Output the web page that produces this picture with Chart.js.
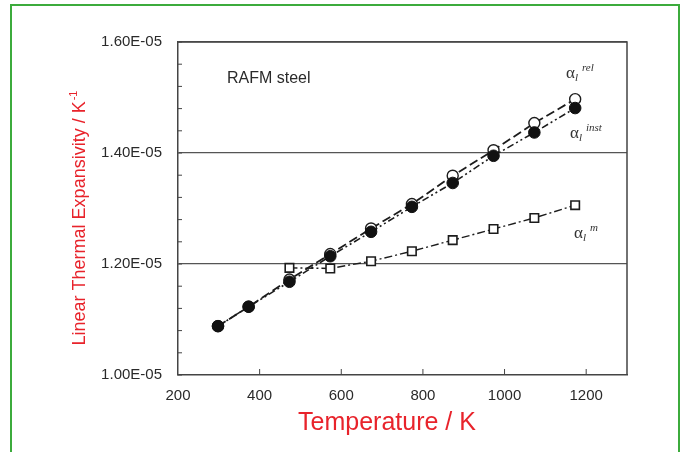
<!DOCTYPE html>
<html>
<head>
<meta charset="utf-8">
<script src="https://cdn.jsdelivr.net/npm/chart.js@4.4.0/dist/chart.umd.min.js"></script>
<style>
  html, body { margin: 0; padding: 0; background: #fff; overflow: hidden; }
  #wrap { position: relative; width: 683px; height: 452px; }
  #frame { position: absolute; left: 10px; top: 4px; width: 666px; height: 520px; border: 2px solid #3cab3c; }
  canvas { position: absolute; left: 0; top: 0; }
</style>
</head>
<body>
<div id="wrap">
  <div id="frame"></div>
  <canvas id="Cnvs" width="683" height="452"></canvas>
</div>
<script>
  // temperatures (K)
  var temps = [298, 373, 473, 573, 673, 773, 873, 973, 1073, 1173];
  var tempsM = [473, 573, 673, 773, 873, 973, 1073, 1173];

  // linear thermal expansivity (1/K)
  var alphaRel = [1.088e-5, 1.123e-5, 1.172e-5, 1.218e-5, 1.264e-5, 1.308e-5, 1.359e-5, 1.405e-5, 1.454e-5, 1.497e-5];
  var alphaInst = [1.088e-5, 1.123e-5, 1.168e-5, 1.214e-5, 1.258e-5, 1.303e-5, 1.346e-5, 1.395e-5, 1.437e-5, 1.481e-5];
  var alphaM = [1.193e-5, 1.192e-5, 1.205e-5, 1.223e-5, 1.243e-5, 1.263e-5, 1.283e-5, 1.306e-5];

  var yMajor = [1.0e-5, 1.2e-5, 1.4e-5, 1.6e-5];
  var yLabels = ['1.00E-05', '1.20E-05', '1.40E-05', '1.60E-05'];

  var red = '#e8232b';
  var ink = '#1c1c1c';

  function pts(xs, ys) {
    return xs.map(function (x, i) { return { x: x, y: ys[i] }; });
  }

  function majorIndex(v) {
    for (var i = 0; i < yMajor.length; i++) {
      if (Math.abs(v - yMajor[i]) < 1e-9) return i;
    }
    return -1;
  }

  function drawAlpha(ctx, x, y, sup) {
    ctx.font = '17px "Liberation Serif", serif';
    ctx.fillText('\u03B1', x, y);
    var w = ctx.measureText('\u03B1').width;
    ctx.font = 'italic 11px "Liberation Serif", serif';
    ctx.fillText('l', x + w, y + 3);
    ctx.fillText(sup, x + w + 7, y - 7);
  }

  var decor = {
    id: 'decor',
    afterDraw: function (chart) {
      var ctx = chart.ctx, a = chart.chartArea;
      var xs = chart.scales.x, ys = chart.scales.y;
      ctx.save();
      // top and right frame of the plot
      ctx.strokeStyle = '#444';
      ctx.lineWidth = 1.5;
      ctx.beginPath();
      ctx.moveTo(a.left, a.top);
      ctx.lineTo(a.right, a.top);
      ctx.lineTo(a.right, a.bottom);
      ctx.stroke();
      // inner ticks
      ctx.lineWidth = 1;
      ys.ticks.forEach(function (t) {
        var py = ys.getPixelForValue(t.value);
        ctx.beginPath();
        ctx.moveTo(a.left, py);
        ctx.lineTo(a.left + 4, py);
        ctx.stroke();
      });
      xs.ticks.forEach(function (t) {
        if (t.value <= 200) return;
        var px = xs.getPixelForValue(t.value);
        ctx.beginPath();
        ctx.moveTo(px, a.bottom);
        ctx.lineTo(px, a.bottom - 6);
        ctx.stroke();
      });

      // annotations
      ctx.fillStyle = '#2a2a2a';
      ctx.textBaseline = 'alphabetic';
      ctx.textAlign = 'left';
      ctx.font = '16px "Liberation Sans", Arial, sans-serif';
      ctx.fillText('RAFM steel', 227, 83);

      ctx.fillStyle = '#333';
      drawAlpha(ctx, 566, 78, 'rel');
      drawAlpha(ctx, 570, 138, 'inst');
      drawAlpha(ctx, 574, 238, 'm');

      // x title
      ctx.fillStyle = red;
      ctx.textAlign = 'center';
      ctx.textBaseline = 'middle';
      ctx.font = '25px "Liberation Sans", Arial, sans-serif';
      ctx.fillText('Temperature / K', 387, 423);

      // y title (rotated)
      ctx.translate(80, 218);
      ctx.rotate(-Math.PI / 2);
      ctx.textAlign = 'left';
      ctx.font = '18px "Liberation Sans", Arial, sans-serif';
      var main = 'Linear Thermal Expansivity / K';
      var w1 = ctx.measureText(main).width;
      ctx.font = '11px "Liberation Sans", Arial, sans-serif';
      var w2 = ctx.measureText('-1').width;
      var start = -(w1 + w2 + 1) / 2;
      ctx.font = '18px "Liberation Sans", Arial, sans-serif';
      ctx.fillText(main, start, 0);
      ctx.font = '11px "Liberation Sans", Arial, sans-serif';
      ctx.fillText('-1', start + w1 + 1, -6);
      ctx.restore();
    }
  };

  var Cnvs = document.getElementById('Cnvs').getContext('2d');
  var lineChart = new Chart(Cnvs, {
    type: 'scatter',
    data: {
      datasets: [
        {
          label: 'rel',
          data: pts(temps, alphaRel),
          showLine: true,
          borderColor: ink,
          borderWidth: 1.8,
          borderDash: [9, 4],
          pointStyle: 'circle',
          pointRadius: 5.5,
          pointBorderWidth: 1.4,
          pointBackgroundColor: '#fff',
          pointBorderColor: ink,
          order: 2
        },
        {
          label: 'inst',
          data: pts(temps, alphaInst),
          showLine: true,
          borderColor: ink,
          borderWidth: 1.6,
          borderDash: [7, 3, 2, 3, 2, 3],
          pointStyle: 'circle',
          pointRadius: 5.8,
          pointBorderWidth: 1,
          pointBackgroundColor: '#111',
          pointBorderColor: '#111',
          order: 1
        },
        {
          label: 'm',
          data: pts(tempsM, alphaM),
          showLine: true,
          borderColor: ink,
          borderWidth: 1.4,
          borderDash: [8, 3, 2, 3],
          pointStyle: 'rect',
          pointRadius: 6,
          pointBorderWidth: 1.6,
          pointBackgroundColor: '#fff',
          pointBorderColor: ink,
          order: 0
        }
      ]
    },
    options: {
      responsive: false,
      animation: false,
      devicePixelRatio: 1,
      layout: { padding: { top: 42, right: 56, left: 0, bottom: 0 } },
      plugins: { legend: { display: false }, tooltip: { enabled: false } },
      scales: {
        x: {
          type: 'linear',
          min: 200,
          max: 1300,
          afterFit: function (s) { s.height = 77; },
          border: { color: '#444', width: 1.5 },
          grid: { color: 'rgba(0,0,0,0)', drawTicks: false },
          ticks: {
            stepSize: 200,
            includeBounds: false,
            padding: 12,
            color: '#2a2a2a',
            font: { family: '"Liberation Sans", Arial, sans-serif', size: 15 },
            callback: function (v) { return String(v); }
          }
        },
        y: {
          type: 'linear',
          min: 1.0e-5,
          max: 1.6e-5,
          afterFit: function (s) { s.width = 178; },
          border: { color: '#444', width: 1.5 },
          grid: {
            drawTicks: false,
            lineWidth: 1.2,
            color: function (c) { return majorIndex(c.tick.value) > 0 ? '#555' : 'rgba(0,0,0,0)'; }
          },
          ticks: {
            stepSize: 0.04e-5,
            autoSkip: false,
            padding: 16,
            color: '#2a2a2a',
            font: { family: '"Liberation Sans", Arial, sans-serif', size: 15 },
            callback: function (v) {
              var i = majorIndex(v);
              return i >= 0 ? yLabels[i] : '';
            }
          }
        }
      }
    },
    plugins: [decor]
  });
</script>
</body>
</html>
